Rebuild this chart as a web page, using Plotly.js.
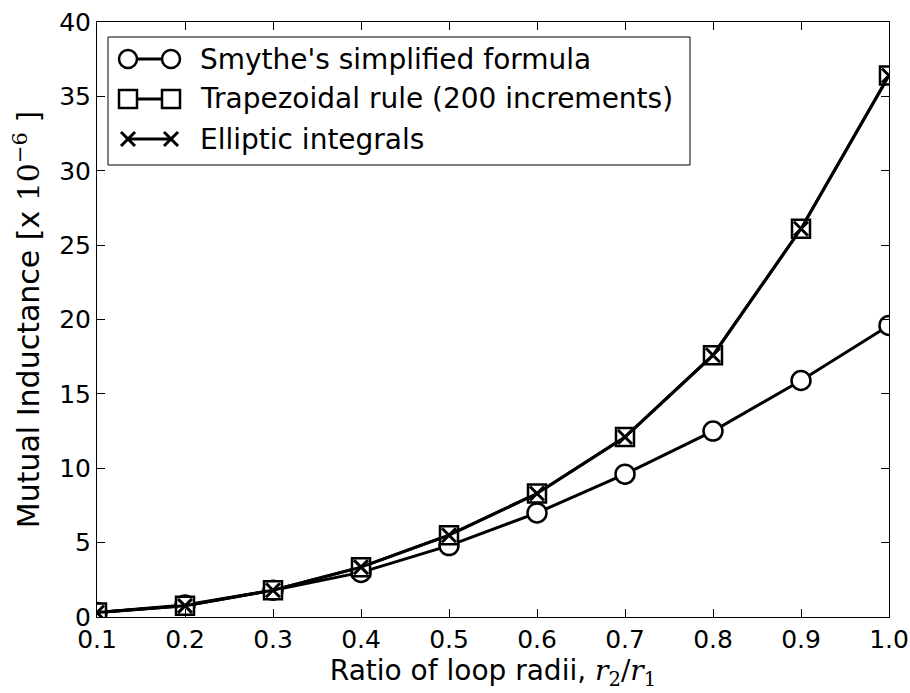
<!DOCTYPE html>
<html>
<head>
<meta charset="utf-8">
<script src="https://cdn.plot.ly/plotly-3.0.1.min.js"></script>
<style>
  html, body { margin: 0; padding: 0; background: #fff; }
  #chart { width: 910px; height: 693px; }
</style>
</head>
<body>
<div id="chart"></div>
<script>
// Ratio of loop radii r2/r1
const ratio = [0.1, 0.2, 0.3, 0.4, 0.5, 0.6, 0.7, 0.8, 0.9, 1.0];
// Mutual inductance [x 10^-6] from the three methods
const smythe = [0.3, 0.8, 1.8, 3.0, 4.8, 7.0, 9.6, 12.5, 15.9, 19.6];
const trapezoid = [0.3, 0.75, 1.8, 3.35, 5.5, 8.3, 12.1, 17.6, 26.1, 36.4];
const elliptic = [0.3, 0.75, 1.8, 3.35, 5.5, 8.3, 12.1, 17.6, 26.1, 36.4];

const xTicks = [0.1, 0.2, 0.3, 0.4, 0.5, 0.6, 0.7, 0.8, 0.9, 1.0];
const yTicks = [0, 5, 10, 15, 20, 25, 30, 35, 40];

const seriesNames = [
  "Smythe's simplified formula",
  "Trapezoidal rule (200 increments)",
  "Elliptic integrals"
];

// Plot frame in pixels (used for the hand-built legend, which sits in paper space)
const W = 910, H = 693;
const M = { l: 97, r: 21, t: 22, b: 76 };
const plotW = W - M.l - M.r, plotH = H - M.t - M.b;
const px = x => (x - M.l) / plotW;
const py = y => (H - M.b - y) / plotH;

const lineStyle = { color: '#000', width: 3 };
const circleMarker = { symbol: 'circle', size: 19, color: '#fff', line: { color: '#000', width: 2.5 } };
const squareMarker = { symbol: 'square', size: 18, color: '#fff', line: { color: '#000', width: 2.5 } };
const crossMarker = { symbol: 'x-thin-open', size: 14, color: '#000', line: { color: '#000', width: 3 } };

const traces = [
  { x: ratio, y: smythe, name: seriesNames[0], mode: 'lines+markers', line: lineStyle, marker: circleMarker },
  { x: ratio, y: trapezoid, name: seriesNames[1], mode: 'lines+markers', line: lineStyle, marker: squareMarker },
  { x: ratio, y: elliptic, name: seriesNames[2], mode: 'lines+markers', line: lineStyle, marker: crossMarker }
];

// Legend: a framed box with "marker—marker" samples and labels
const legendBox = { x0: 108, x1: 690, y0: 37, y1: 165 };
const rowY = [59, 99, 139];
const sampleX = [128, 171];
const halfMark = 9;

const shapes = [{
  type: 'rect', xref: 'paper', yref: 'paper', layer: 'above',
  x0: px(legendBox.x0), x1: px(legendBox.x1), y0: py(legendBox.y1), y1: py(legendBox.y0),
  line: { color: '#000', width: 1 }, fillcolor: '#fff'
}];
const annotations = [];

seriesNames.forEach((name, i) => {
  const yc = rowY[i];
  shapes.push({
    type: 'line', xref: 'paper', yref: 'paper', layer: 'above',
    x0: px(sampleX[0]), x1: px(sampleX[1]), y0: py(yc), y1: py(yc),
    line: { color: '#000', width: 3 }
  });
  sampleX.forEach(xc => {
    if (i === 0) {
      shapes.push({
        type: 'circle', xref: 'paper', yref: 'paper', layer: 'above',
        x0: px(xc - halfMark), x1: px(xc + halfMark), y0: py(yc + halfMark), y1: py(yc - halfMark),
        line: { color: '#000', width: 2.5 }, fillcolor: '#fff'
      });
    } else if (i === 1) {
      shapes.push({
        type: 'rect', xref: 'paper', yref: 'paper', layer: 'above',
        x0: px(xc - halfMark), x1: px(xc + halfMark), y0: py(yc + halfMark), y1: py(yc - halfMark),
        line: { color: '#000', width: 2.5 }, fillcolor: '#fff'
      });
    } else {
      const h = 7;
      shapes.push({
        type: 'line', xref: 'paper', yref: 'paper', layer: 'above',
        x0: px(xc - h), x1: px(xc + h), y0: py(yc - h), y1: py(yc + h),
        line: { color: '#000', width: 3 }
      });
      shapes.push({
        type: 'line', xref: 'paper', yref: 'paper', layer: 'above',
        x0: px(xc - h), x1: px(xc + h), y0: py(yc + h), y1: py(yc - h),
        line: { color: '#000', width: 3 }
      });
    }
  });
  annotations.push({
    xref: 'paper', yref: 'paper', x: px(198), y: py(yc),
    xanchor: 'left', yanchor: 'middle', showarrow: false,
    text: name, font: { family: 'DejaVu Sans', size: 28, color: '#000' }
  });
});

const axisCommon = {
  showgrid: false,
  zeroline: false,
  showline: true,
  linecolor: '#000',
  linewidth: 1,
  mirror: 'ticks',
  ticks: 'inside',
  ticklen: 8,
  tickwidth: 1,
  tickcolor: '#000',
  tickfont: { family: 'DejaVu Sans', size: 25, color: '#000' }
};

const layout = {
  width: W,
  height: H,
  margin: M,
  paper_bgcolor: '#fff',
  plot_bgcolor: '#fff',
  font: { family: 'DejaVu Sans', color: '#000' },
  showlegend: false,
  shapes: shapes,
  annotations: annotations,
  xaxis: Object.assign({}, axisCommon, {
    range: [0.1, 1.0],
    tickvals: xTicks,
    ticktext: xTicks.map(v => v.toFixed(1)),
    title: {
      text: 'Ratio of loop radii, <span style="font-family:DejaVu Serif"><i>r</i><sub>2</sub>/<i>r</i><sub>1</sub></span>',
      font: { family: 'DejaVu Sans', size: 28, color: '#000' },
      standoff: 4
    }
  }),
  yaxis: Object.assign({}, axisCommon, {
    range: [0, 40],
    tickvals: yTicks,
    ticktext: yTicks.map(String),
    title: {
      text: 'Mutual Inductance [x <span style="font-family:DejaVu Serif">10<sup>\u22126</sup></span> ]',
      font: { family: 'DejaVu Sans', size: 30, color: '#000' },
      standoff: 10
    }
  })
};

Plotly.newPlot('chart', traces, layout, { displayModeBar: false, staticPlot: true });
</script>
</body>
</html>
